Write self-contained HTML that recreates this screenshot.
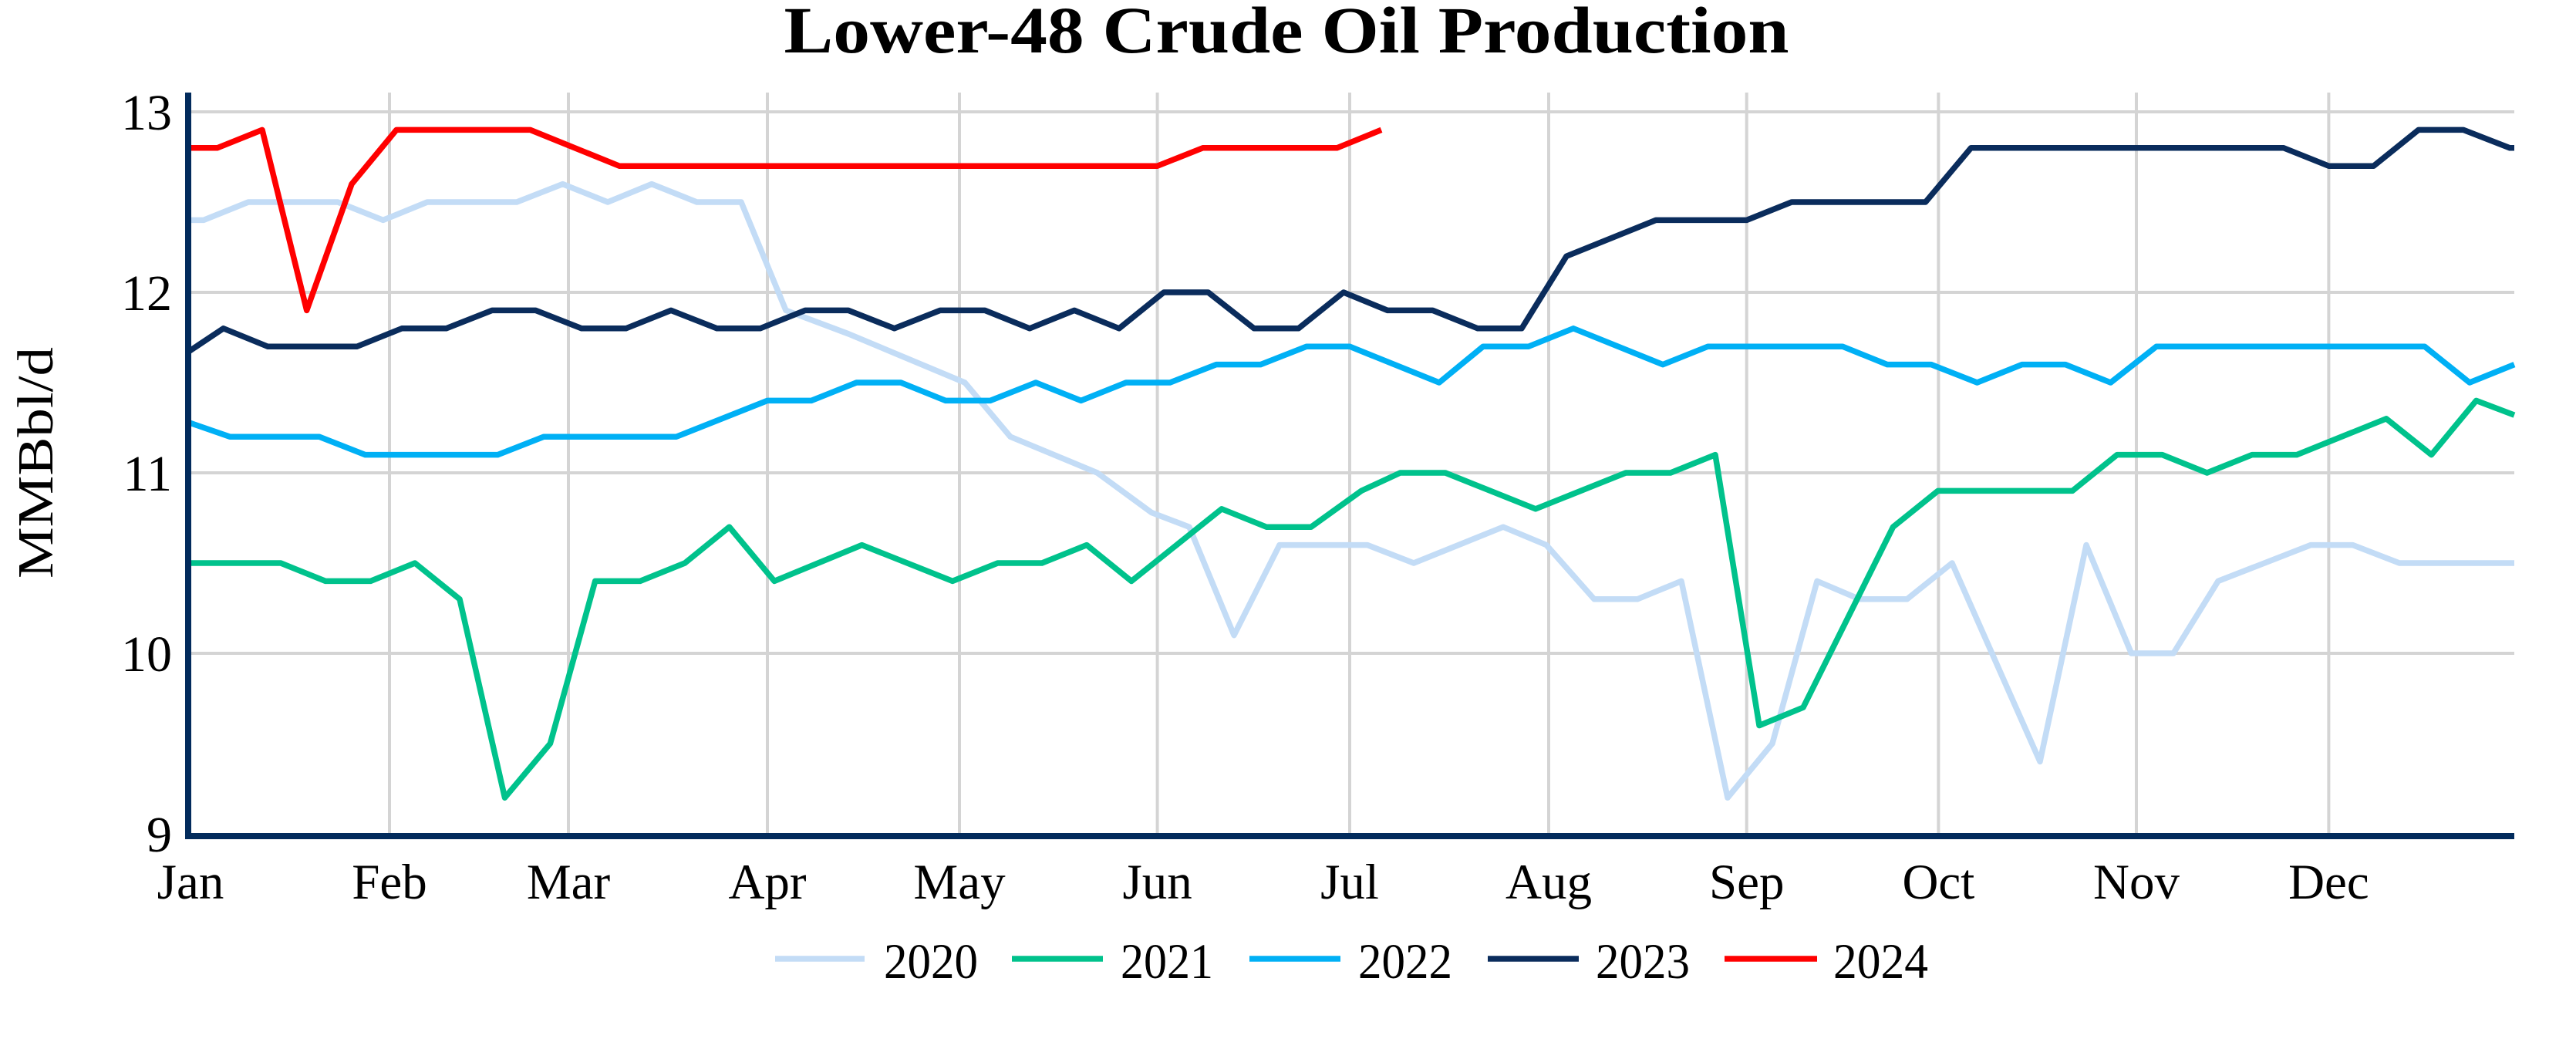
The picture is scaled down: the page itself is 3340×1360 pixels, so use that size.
<!DOCTYPE html>
<html><head><meta charset="utf-8"><style>
html,body{margin:0;padding:0;background:#fff;}
svg{display:block;}
text{font-family:"Liberation Serif",serif;fill:#000;}
</style></head><body>
<svg width="3340" height="1360" viewBox="0 0 3340 1360" xmlns="http://www.w3.org/2000/svg">
<rect width="3340" height="1360" fill="#fff"/>
<text x="1668" y="68" font-size="86" font-weight="bold" text-anchor="middle" textLength="1303" lengthAdjust="spacingAndGlyphs">Lower-48 Crude Oil Production</text>
<g stroke="#d4d4d4" stroke-width="4">
<line x1="244" y1="145" x2="3260" y2="145"/>
<line x1="244" y1="379" x2="3260" y2="379"/>
<line x1="244" y1="613" x2="3260" y2="613"/>
<line x1="244" y1="847" x2="3260" y2="847"/>
<line x1="505" y1="120" x2="505" y2="1084"/>
<line x1="737" y1="120" x2="737" y2="1084"/>
<line x1="995" y1="120" x2="995" y2="1084"/>
<line x1="1244" y1="120" x2="1244" y2="1084"/>
<line x1="1500.6" y1="120" x2="1500.6" y2="1084"/>
<line x1="1750" y1="120" x2="1750" y2="1084"/>
<line x1="2008" y1="120" x2="2008" y2="1084"/>
<line x1="2264.7" y1="120" x2="2264.7" y2="1084"/>
<line x1="2513.4" y1="120" x2="2513.4" y2="1084"/>
<line x1="2770" y1="120" x2="2770" y2="1084"/>
<line x1="3019.4" y1="120" x2="3019.4" y2="1084"/>
</g>
<g transform="matrix(1 0 0 -234 0 3187)" fill="none" stroke-linejoin="round">
<polyline vector-effect="non-scaling-stroke" stroke="#c3dcf6" stroke-width="7.5" points="244,12.4 264,12.4 322,12.5 438,12.5 496.7,12.4 554,12.5 670,12.5 729.6,12.6 788,12.5 845,12.6 903.5,12.5 961,12.5 1019,11.9 1100,11.77 1251,11.5 1310,11.2 1422.7,11.0 1493,10.78 1542,10.7 1600,10.1 1659,10.6 1773,10.6 1833,10.5 1949,10.7 2005,10.6 2067,10.3 2123,10.3 2180,10.4 2240,9.2 2298,9.5 2356,10.4 2411,10.3 2472.6,10.3 2531,10.5 2603.5,9.8 2645,9.4 2705,10.6 2763.5,10.0 2818,10.0 2876,10.4 2996,10.6 3050.6,10.6 3111,10.5 3260,10.5"/>
<polyline vector-effect="non-scaling-stroke" stroke="#00c28c" stroke-width="7.5" points="244,10.5 364,10.5 422,10.4 480.5,10.4 538,10.5 596,10.3 654.5,9.2 713.4,9.5 771.7,10.4 830,10.4 888,10.5 945.6,10.7 1004,10.4 1117.5,10.6 1235,10.4 1293.6,10.5 1351,10.5 1409,10.6 1467,10.4 1584,10.8 1642,10.7 1700,10.7 1765,10.9 1815.5,11.0 1874,11.0 1991,10.8 2108,11.0 2166,11.0 2224,11.1 2281,9.6 2338,9.7 2454.5,10.7 2512.6,10.9 2687,10.9 2745,11.1 2803.5,11.1 2861.6,11.0 2920,11.1 2978,11.1 3094,11.3 3152.5,11.1 3210.6,11.4 3260,11.32"/>
<polyline vector-effect="non-scaling-stroke" stroke="#00b0f5" stroke-width="7.5" points="244,11.28 298,11.2 414,11.2 473.5,11.1 645.4,11.1 705,11.2 877,11.2 995,11.4 1052,11.4 1110.5,11.5 1168,11.5 1226,11.4 1284,11.4 1343,11.5 1401.6,11.4 1460,11.5 1517,11.5 1577,11.6 1634.5,11.6 1694,11.7 1750,11.7 1866,11.5 1923,11.7 1982,11.7 2040,11.8 2156,11.6 2214.5,11.7 2389,11.7 2447,11.6 2504,11.6 2563.5,11.5 2621.7,11.6 2678,11.6 2736.6,11.5 2796,11.7 3143.7,11.7 3202,11.5 3260,11.6"/>
<polyline vector-effect="non-scaling-stroke" stroke="#0a2c5c" stroke-width="7.5" points="244,11.67 289.7,11.8 347,11.7 463,11.7 521,11.8 578.7,11.8 638,11.9 694.5,11.9 754,11.8 811.6,11.8 870,11.9 929.5,11.8 985.6,11.8 1044,11.9 1100,11.9 1159.6,11.8 1219,11.9 1277,11.9 1335,11.8 1393,11.9 1451,11.8 1509,12.0 1566.5,12.0 1626,11.8 1683.6,11.8 1742,12.0 1799,11.9 1857.6,11.9 1916,11.8 1973,11.8 2031,12.2 2147,12.4 2264.7,12.4 2323,12.5 2496.6,12.5 2555.5,12.8 2961,12.8 3019.4,12.7 3077.6,12.7 3135.7,12.9 3194,12.9 3254,12.8 3260,12.8"/>
<polyline vector-effect="non-scaling-stroke" stroke="#ff0000" stroke-width="7.5" points="244,12.8 281.7,12.8 340,12.9 397.7,11.9 456,12.6 514,12.9 687.5,12.9 803,12.7 1500.6,12.7 1559.5,12.8 1733.5,12.8 1791,12.9"/>
</g>
<line x1="244" y1="120" x2="244" y2="1088" stroke="#022b5c" stroke-width="8"/>
<line x1="240" y1="1084" x2="3260" y2="1084" stroke="#022b5c" stroke-width="8"/>
<g font-size="66" text-anchor="end">
<text x="223" y="168">13</text>
<text x="223" y="402">12</text>
<text x="223" y="636">11</text>
<text x="223" y="870">10</text>
<text x="223" y="1104">9</text>
</g>
<text transform="translate(68,600) rotate(-90)" font-size="66" text-anchor="middle" textLength="300" lengthAdjust="spacingAndGlyphs">MMBbl/d</text>
<g font-size="65" text-anchor="middle">
<text x="247" y="1165">Jan</text>
<text x="505" y="1165">Feb</text>
<text x="737" y="1165">Mar</text>
<text x="995" y="1165">Apr</text>
<text x="1244" y="1165">May</text>
<text x="1500.6" y="1165">Jun</text>
<text x="1750" y="1165">Jul</text>
<text x="2008" y="1165">Aug</text>
<text x="2264.7" y="1165">Sep</text>
<text x="2513.4" y="1165">Oct</text>
<text x="2770" y="1165">Nov</text>
<text x="3019.4" y="1165">Dec</text>
</g>
<g stroke-width="7.5">
<line x1="1005" y1="1243" x2="1121" y2="1243" stroke="#c3dcf6"/>
<line x1="1312" y1="1243" x2="1430" y2="1243" stroke="#00c28c"/>
<line x1="1620" y1="1243" x2="1738" y2="1243" stroke="#00b0f5"/>
<line x1="1929" y1="1243" x2="2047" y2="1243" stroke="#0a2c5c"/>
<line x1="2236" y1="1243" x2="2356" y2="1243" stroke="#ff0000"/>
</g>
<g font-size="65">
<text x="1146" y="1268" textLength="122" lengthAdjust="spacingAndGlyphs">2020</text>
<text x="1453" y="1268" textLength="120" lengthAdjust="spacingAndGlyphs">2021</text>
<text x="1761" y="1268" textLength="122" lengthAdjust="spacingAndGlyphs">2022</text>
<text x="2069" y="1268" textLength="122" lengthAdjust="spacingAndGlyphs">2023</text>
<text x="2377" y="1268" textLength="123" lengthAdjust="spacingAndGlyphs">2024</text>
</g>
</svg>
</body></html>
